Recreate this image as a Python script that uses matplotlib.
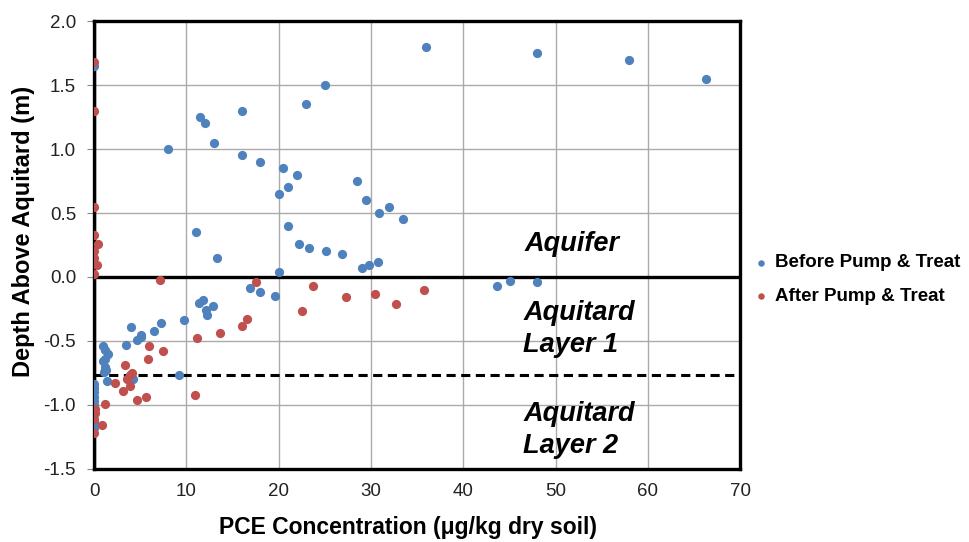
import matplotlib
matplotlib.use("Agg")
import matplotlib.pyplot as plt
from matplotlib.ticker import FormatStrFormatter

plt.rcParams['font.family'] = ['Liberation Sans', 'DejaVu Sans']
plt.rcParams['axes.unicode_minus'] = False

# ------------------------
# Data
# ------------------------

before_x = [0, 8, 11.5, 12, 13, 16, 16, 18, 20.5, 22, 21, 20, 23, 25, 28.5, 29.5,
            30.9, 32, 33.5, 36, 48, 58, 66.3, 11, 13.3, 21, 22.2, 23.3, 25.1, 26.9,
            29, 29.8, 30.8, 20, 43.7, 45.1, 48, 16.9, 18, 19.6, 11.4, 11.8, 12.1,
            12.2, 12.9, 9.7, 7.3, 6.5, 5.1, 5.1, 4.65, 4.0, 3.5, 9.2, 4.2,
            1.0, 1.2, 1.5, 1.2, 1.0, 1.15, 1.3, 1.1, 1.44,
            0, 0, 0, 0, 0, 0, 0, 0]
before_y = [1.65, 1.0, 1.25, 1.2, 1.05, 1.3, 0.95, 0.9, 0.85, 0.8, 0.7, 0.65, 1.35, 1.5, 0.75, 0.6,
            0.5, 0.55, 0.45, 1.8, 1.75, 1.7, 1.55, 0.35, 0.15, 0.4, 0.26, 0.23, 0.2, 0.18,
            0.07, 0.09, 0.12, 0.04, -0.07, -0.03, -0.04, -0.09, -0.12, -0.15, -0.2, -0.18, -0.26,
            -0.3, -0.23, -0.34, -0.36, -0.42, -0.45, -0.47, -0.49, -0.39, -0.53, -0.77, -0.8,
            -0.54, -0.57, -0.6, -0.64, -0.66, -0.7, -0.73, -0.74, -0.81,
            -0.84, -0.87, -0.9, -0.94, -0.97, -1.0, -1.13, -1.18]

after_x = [0, 0, 0, 0, 0.4, 0, 0, 0.3, 0, 7.1, 17.5, 23.7, 27.3, 30.4, 32.7, 35.7,
           22.5, 16.6, 16.0, 13.6, 11.2, 5.9, 7.5, 5.8, 10.9, 4.7, 5.6, 3.35, 4.1,
           3.9, 3.6, 3.9, 3.1, 2.3, 1.2, 0.9, 0.15, 0.05, 0, 0]
after_y = [1.68, 1.3, 0.55, 0.33, 0.26, 0.2, 0.15, 0.09, 0.02, -0.02, -0.04, -0.07, -0.16, -0.13, -0.21, -0.1,
           -0.27, -0.33, -0.38, -0.44, -0.48, -0.54, -0.58, -0.64, -0.92, -0.96, -0.94, -0.69, -0.75,
           -0.77, -0.8, -0.85, -0.89, -0.83, -0.99, -1.16, -1.03, -1.06, -1.11, -1.22]

aquifer_top = 0.0
layer_split = -0.766

fig = plt.figure(figsize=(9.7, 5.42), dpi=100)
ax = fig.add_axes([0.097, 0.135, 0.666, 0.826])

ax.scatter(before_x, before_y, s=44, color="#4F81BD", label="Before Pump & Treat", zorder=3, linewidths=0)
ax.scatter(after_x, after_y, s=44, color="#C0504D", label="After Pump & Treat", zorder=4, linewidths=0)

ax.axhline(aquifer_top, color="black", lw=2.4, zorder=2)
ax.axhline(layer_split, color="black", lw=2.2, ls=(0, (3, 1.8)), zorder=2)
ax.axvline(0, color="black", lw=2.4, zorder=2)

ax.set_xlim(0, 70)
ax.set_ylim(-1.5, 2.0)
ax.set_xticks(range(0, 71, 10))
ax.set_yticks([-1.5, -1.0, -0.5, 0.0, 0.5, 1.0, 1.5, 2.0])
ax.yaxis.set_major_formatter(FormatStrFormatter('%.1f'))
ax.grid(True, color="#ABABAB", lw=1.0, zorder=0)
ax.set_axisbelow(True)
ax.tick_params(axis='both', labelsize=13.5, labelcolor="#222222", length=5, color="#888888")
ax.tick_params(axis='y', pad=8)
ax.tick_params(axis='x', length=0, pad=10)

for spine in ax.spines.values():
    spine.set_linewidth(2.4)
    spine.set_color("black")

ax.set_xlabel("PCE Concentration (\u03bcg/kg dry soil)", fontsize=16.5, fontweight="bold")
ax.xaxis.set_label_coords(0.486, -0.105)
ax.set_ylabel("Depth Above Aquitard (m)", fontsize=17, fontweight="bold")
ax.yaxis.set_label_coords(-0.092, 0.53)

zone_font = dict(fontsize=19.5, fontweight="bold", fontstyle="italic", ha="left", va="center")
ax.text(46.6, 0.26, "Aquifer", **zone_font)
ax.text(46.5, -0.41, "Aquitard\nLayer 1", linespacing=1.3, **zone_font)
ax.text(46.5, -1.195, "Aquitard\nLayer 2", linespacing=1.3, **zone_font)

ax.legend(loc="center left", bbox_to_anchor=(0.988, 0.423), frameon=False,
          prop=dict(weight="bold", size=13.5), handletextpad=0.1, markerscale=0.7,
          labelspacing=0.85, handlelength=1.3)

fig.savefig("out.png", dpi=100)
